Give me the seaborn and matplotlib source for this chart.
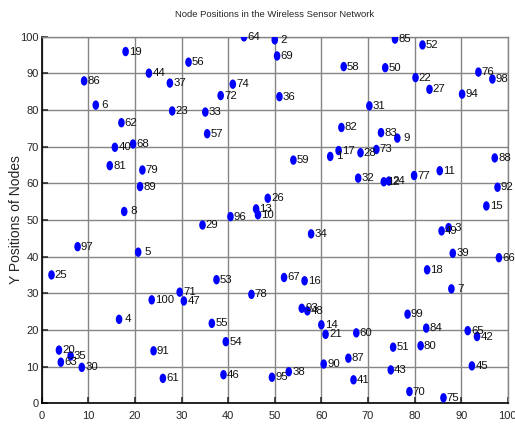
import matplotlib
matplotlib.use("Agg")
import matplotlib.pyplot as plt
from matplotlib import font_manager
from matplotlib.path import Path
from matplotlib.transforms import Affine2D
import seaborn as sns
import pandas as pd

node_ids = list(range(1, 101))
x_pos = [61.9, 50.0, 87.3, 16.6, 20.7, 11.6, 87.9, 17.7, 76.3, 46.4,
         85.4, 73.4, 46.0, 60.0, 95.4, 56.4, 63.7, 82.7, 18.0, 3.7,
         60.9, 80.2, 28.0, 74.5, 2.1, 48.5, 83.2, 68.4, 34.5, 8.6,
         70.3, 67.9, 35.1, 57.8, 6.2, 51.0, 27.5, 53.0, 88.2, 15.7,
         66.9, 93.4, 74.9, 23.0, 92.3, 39.0, 30.5, 57.0, 85.8, 73.7,
         75.4, 81.7, 37.5, 39.5, 36.5, 31.5, 35.5, 64.8, 54.0, 67.5,
         26.0, 17.1, 4.1, 43.4, 91.4, 98.1, 52.0, 19.6, 50.5, 78.9,
         29.6, 38.4, 71.8, 41.0, 86.2, 93.7, 79.9, 45.0, 21.6, 81.3,
         14.6, 64.3, 72.8, 82.5, 75.8, 9.1, 65.8, 97.2, 21.1, 60.5,
         24.0, 97.8, 55.8, 90.2, 49.4, 40.5, 7.7, 96.7, 78.5, 23.6]
y_pos = [67.3, 99.1, 47.9, 22.9, 41.2, 81.3, 31.2, 52.3, 72.3, 51.4,
         63.4, 60.4, 53.0, 21.4, 53.8, 33.4, 68.9, 36.4, 95.9, 14.5,
         18.8, 88.8, 79.7, 60.6, 35.0, 55.9, 85.6, 68.3, 48.6, 9.8,
         81.1, 61.4, 79.4, 46.2, 12.9, 83.6, 87.3, 8.6, 40.9, 69.8,
         6.4, 18.2, 9.1, 90.0, 10.2, 7.8, 27.9, 25.2, 47.0, 91.5,
         15.3, 97.7, 33.7, 16.8, 21.8, 93.0, 73.5, 91.8, 66.3, 19.2,
         6.8, 76.5, 11.2, 99.9, 19.8, 39.7, 34.3, 70.7, 94.7, 3.2,
         30.3, 83.9, 69.2, 87.0, 1.5, 90.3, 62.1, 29.7, 63.6, 15.7,
         64.8, 75.2, 73.8, 20.5, 99.3, 87.9, 12.3, 66.9, 59.1, 10.7,
         14.3, 58.9, 25.9, 84.3, 7.1, 50.9, 42.7, 88.4, 24.3, 28.2]

title_text = "Node Positions in the Wireless Sensor Network"
y_label = "Y Positions of Nodes"
ticks = [0, 10, 20, 30, 40, 50, 60, 70, 80, 90, 100]

df = pd.DataFrame({"node": node_ids, "x": x_pos, "y": y_pos})

sns.set_theme(style="white")
names = {f.name for f in font_manager.fontManager.ttflist}
narrow = "Liberation Sans Narrow" if "Liberation Sans Narrow" in names else "Liberation Sans"
plt.rcParams["font.family"] = [narrow, "DejaVu Sans"]

fig = plt.figure(figsize=(5.15, 4.26), dpi=100)
ax = fig.add_axes([0.081, 0.0533, 0.905, 0.861])

ellipse = Path.unit_circle().transformed(Affine2D().scale(0.70, 1.0))
sns.scatterplot(data=df, x="x", y="y", ax=ax, marker=ellipse, s=46,
                color="#0000ff", edgecolor="none", linewidth=0, zorder=3)

for n, xv, yv in zip(node_ids, x_pos, y_pos):
    lbl = str(n) if n >= 10 else " " + str(n)
    ax.annotate(lbl, (xv, yv), xytext=(2.4, 0), textcoords="offset points",
                ha="left", va="center", fontsize=8.2, color="#111111", zorder=4)

ax.set_xlim(0, 100)
ax.set_ylim(0, 100)
ax.set_xticks(ticks)
ax.set_yticks(ticks)
ax.set_xticklabels([str(t) for t in ticks])
ax.set_yticklabels([str(t) for t in ticks])
ax.grid(True, color="#858585", linewidth=1.0, linestyle="-")
ax.set_axisbelow(True)
ax.tick_params(axis="both", which="both", direction="in", length=4, width=1.1,
               color="#222222", labelsize=8, bottom=True, left=True)
ax.tick_params(axis="x", pad=5.5)
ax.tick_params(axis="y", pad=2)
for side in ["left", "bottom"]:
    ax.spines[side].set_color("black")
    ax.spines[side].set_linewidth(1.2)
for side in ["top", "right"]:
    ax.spines[side].set_color("#858585")
    ax.spines[side].set_linewidth(1.0)
ax.set_xlabel("")
ax.set_ylabel(y_label, fontsize=10, family=["Liberation Sans", "DejaVu Sans"])
ax.yaxis.set_label_coords(-0.040, 0.5)
ax.set_title(title_text, fontsize=6.8, pad=14)

fig.savefig("out.png", dpi=100)
